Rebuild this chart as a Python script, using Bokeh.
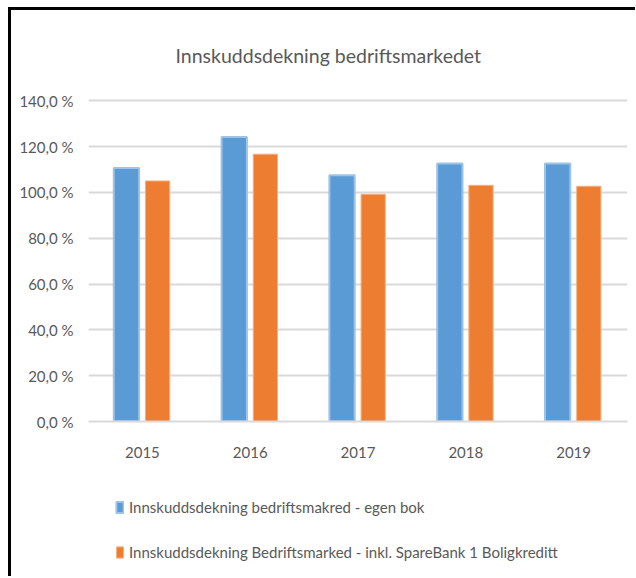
from bokeh.plotting import figure
from bokeh.models import ColumnDataSource, Range1d, FactorRange, FixedTicker, Legend, LegendItem
from bokeh.layouts import column
from bokeh.transform import dodge
from bokeh.embed import file_html
from bokeh.resources import INLINE

# ---- data ----
years = ["2015", "2016", "2017", "2018", "2019"]
egen_bok = [110.7, 124.2, 107.5, 112.6, 112.6]
inkl_boligkreditt = [105.0, 116.7, 99.2, 103.1, 102.7]
y_ticks = [0, 20, 40, 60, 80, 100, 120, 140]
y_tick_labels = ["0,0 %", "20,0 %", "40,0 %", "60,0 %", "80,0 %", "100,0 %", "120,0 %", "140,0 %"]
series_names = [
    "Innskuddsdekning bedriftsmakred - egen bok",
    "Innskuddsdekning Bedriftsmarked - inkl. SpareBank 1 Boligkreditt",
]
title_text = "Innskuddsdekning bedriftsmarkedet"

FONT = "Lato"
TXT = "#595959"
BLUE, BLUE_EDGE = "#5B9BD5", "#9DC3E6"
ORANGE, ORANGE_EDGE = "#ED7D31", "#F4B183"
GRID = "#D9D9D9"

source = ColumnDataSource(dict(year=years, egen=egen_bok, inkl=inkl_boligkreditt))

# ---- main chart ----
p = figure(
    width=624, height=470,
    x_range=FactorRange(*years, range_padding=0),
    y_range=Range1d(0, 141),
    output_backend="svg", toolbar_location=None,
    min_border_left=77, min_border_right=8, min_border_top=88, min_border_bottom=59,
    title=title_text,
)
p.outline_line_color = None

p.title.align = "left"
p.title.offset = 87
p.title.vertical_align = "middle"
p.title.standoff = 62
p.title.text_font = FONT
p.title.text_font_size = "19.5px"
p.title.text_font_style = "normal"
p.title.text_color = TXT

r1 = p.vbar(x=dodge("year", -0.148, range=p.x_range), top="egen", width=0.235, source=source,
            fill_color=BLUE, line_color=BLUE_EDGE, line_width=2)
r2 = p.vbar(x=dodge("year", 0.141, range=p.x_range), top="inkl", width=0.225, source=source,
            fill_color=ORANGE, line_color=ORANGE_EDGE, line_width=1)

p.yaxis.ticker = FixedTicker(ticks=y_ticks)
p.yaxis.major_label_overrides = {t: l for t, l in zip(y_ticks, y_tick_labels)}
p.yaxis.axis_line_color = None
p.yaxis.major_tick_line_color = None
p.yaxis.minor_tick_line_color = None
p.yaxis.major_label_standoff = 9
p.yaxis.major_label_text_font = FONT
p.yaxis.major_label_text_font_size = "15px"
p.yaxis.major_label_text_color = TXT

p.xaxis.axis_line_color = GRID
p.xaxis.axis_line_width = 2
p.xaxis.major_tick_line_color = None
p.xaxis.minor_tick_line_color = None
p.xaxis.major_label_standoff = 19
p.xaxis.major_label_text_font = FONT
p.xaxis.major_label_text_font_size = "15px"
p.xaxis.major_label_text_color = TXT

p.xgrid.grid_line_color = None
p.ygrid.grid_line_color = GRID
p.ygrid.grid_line_width = 2
p.ygrid.ticker = FixedTicker(ticks=y_ticks)

# ---- legend strip (same series as hidden renderers; only the legend keys show) ----
q = figure(
    width=624, height=96,
    x_range=FactorRange(*years, range_padding=0),
    y_range=Range1d(0, 141),
    output_backend="svg", toolbar_location=None,
    x_axis_type=None, y_axis_type=None,
    min_border_left=0, min_border_right=0, min_border_top=0, min_border_bottom=0,
)
q.outline_line_color = None
q.xgrid.grid_line_color = None
q.ygrid.grid_line_color = None
l1 = q.vbar(x="year", top="egen", width=0.235, source=source,
            fill_color=BLUE, line_color=BLUE_EDGE, line_width=2, visible=False)
l2 = q.vbar(x="year", top="inkl", width=0.225, source=source,
            fill_color=ORANGE, line_color=ORANGE_EDGE, line_width=1, visible=False)

legend = Legend(
    items=[LegendItem(label=series_names[0], renderers=[l1]),
           LegendItem(label=series_names[1], renderers=[l2])],
    location=(27, 15), orientation="vertical",
    glyph_width=9, glyph_height=14, label_height=14, spacing=27,
    padding=0, margin=0, label_standoff=5,
    border_line_color=None, background_fill_alpha=0, inactive_fill_alpha=0,
    label_text_font=FONT, label_text_font_size="15px", label_text_color=TXT,
)
q.add_layout(legend)

layout = column(p, q, spacing=0)
layout.styles = {"margin-left": "8px", "margin-top": "7px",
                 "border-left": "3px solid black", "border-top": "3px solid black"}

open("out.html", "w").write(file_html(layout, INLINE))
